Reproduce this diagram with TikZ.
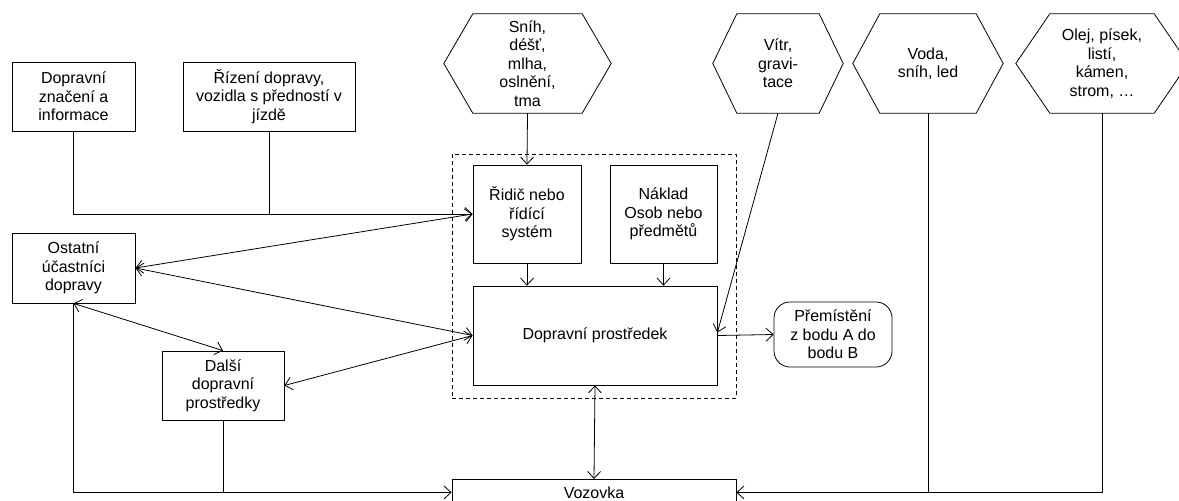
\documentclass[tikz,border=0pt]{standalone}
\usepackage{fontspec}
\setmainfont{Liberation Sans}
\usetikzlibrary{arrows.meta}
\newcommand\hexaround[2]{%
  \draw[line width=0.8pt] ([xshift=#2]#1.north west) -- ([xshift=-#2]#1.north east) -- (#1.east)
    -- ([xshift=-#2]#1.south east) -- ([xshift=#2]#1.south west) -- (#1.west) -- cycle;}
\begin{document}
\begin{tikzpicture}[x=1pt,y=-1pt,
  every node/.style={font=\fontsize{16}{18.5}\selectfont, align=center, inner sep=0pt},
  box/.style={draw, line width=0.8pt},
  hexnode/.style={},
  conn/.style={line width=0.8pt},
  >={Straight Barb[length=7pt,width=13pt,line width=0.8pt]}]
\clip (0,0) rectangle (1179,501);
\fill[white] (0,0) rectangle (1179,501);
% hexagon nodes
\node[hexnode, minimum width=167, minimum height=99] (sn) at (527.5,63.5) {Sníh,\\déšť,\\mlha,\\oslnění,\\tma};
\node[hexnode, minimum width=130, minimum height=99] (vi) at (778,63.5) {Vítr,\\gravi-\\tace};
\node[hexnode, minimum width=150, minimum height=99] (vo) at (928,63.5) {Voda,\\sníh, led};
\node[hexnode, minimum width=172, minimum height=99] (ol) at (1102,63.5) {Olej, písek,\\listí,\\kámen,\\strom, …};
\hexaround{sn}{29}
\hexaround{vi}{24}
\hexaround{vo}{27}
\hexaround{ol}{34}
% boxes
\node[box, minimum width=123, minimum height=69] (dz) at (73.5,96.5) {Dopravní\\značení a\\informace};
\node[box, minimum width=172, minimum height=69] (rz) at (269,96.5) {Řízení dopravy,\\vozidla s předností v\\jízdě};
\node[draw, line width=0.8pt, dash pattern=on 4pt off 3pt, minimum width=284, minimum height=244] (sys) at (594,276) {};
\node[box, minimum width=108, minimum height=98] (rid) at (527,214) {Řidič nebo\\řídící\\systém};
\node[box, minimum width=107, minimum height=98] (nak) at (663.5,214) {Náklad\\Osob nebo\\předmětů};
\node[box, minimum width=244, minimum height=99] (dp) at (595,335.5) {Dopravní prostředek};
\node[box, rounded corners=16pt, minimum width=118, minimum height=65] (pre) at (833,334.5) {Přemístění\\z bodu A do\\bodu B};
\node[box, minimum width=123, minimum height=70] (ost) at (73.5,268) {Ostatní\\účastníci\\dopravy};
\node[box, minimum width=122, minimum height=69] (dal) at (223,385.5) {Další\\dopravní\\prostředky};
\node[box, minimum width=284, minimum height=26, anchor=north] (voz) at (594,479) {Vozovka};
% connectors
\draw[conn,->] (dz.south) |- (rid.west);
\draw[conn] (rz.south) -- (rz.south |- rid.west);
\draw[conn,->] (sn.south) -- (rid.north);
\draw[conn,<->] (ost.east) -- (rid.west);
\draw[conn,<->] (ost.east) -- (dp.west);
\draw[conn,<->] (ost.south) -- (dal.north);
\draw[conn,<->] (dal.east) -- (dp.west);
\draw[conn,->] (rid.south) -- (rid.south |- dp.north);
\draw[conn,->] (nak.south) -- (nak.south |- dp.north);
\draw[conn,->] (vi.south) -- ([yshift=3pt]dp.east);
\draw[conn,->] (dp.east) -- (pre.west);
\draw[conn,<->] (dp.south) -- (voz.north);
\draw[conn,->] (ost.south) |- (voz.west);
\draw[conn] (dal.south) -- (dal.south |- voz.west);
\draw[conn,->] (ol.south) |- (voz.east);
\draw[conn] (vo.south) -- (vo.south |- voz.east);
\end{tikzpicture}
\end{document}
